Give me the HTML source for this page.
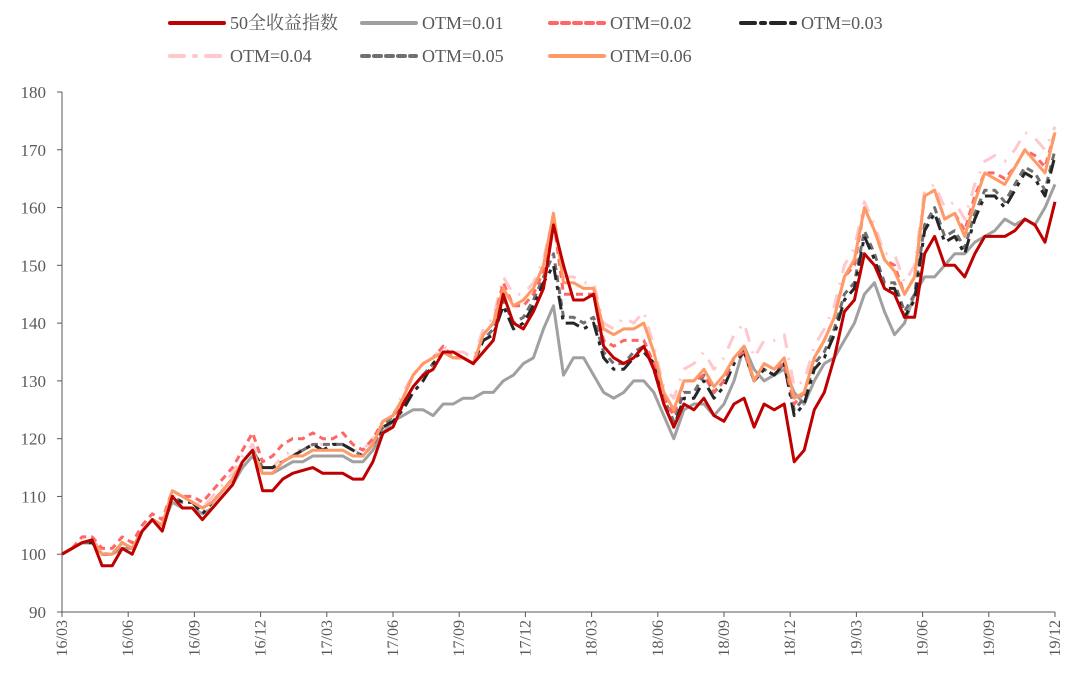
<!DOCTYPE html>
<html><head><meta charset="utf-8"><style>
html,body{margin:0;padding:0;background:#fff;}
svg{display:block;font-family:"Liberation Serif","Noto Serif CJK SC",serif;}
</style></head><body>
<svg id="chart" width="1086" height="681" viewBox="0 0 1086 681"></svg>
<script>
const xTickLabels=["16/03","16/06","16/09","16/12","17/03","17/06","17/09","17/12","18/03","18/06","18/09","18/12","19/03","19/06","19/09","19/12"];
const yTicks=[90,100,110,120,130,140,150,160,170,180];
const seriesNames=["50全收益指数","OTM=0.01","OTM=0.02","OTM=0.03","OTM=0.04","OTM=0.05","OTM=0.06"];
const idx50=[100,101,102,102.5,98,98,101,100,104,106,104,110,108,108,106,108,110,112,116,118,111,111,113,114,114.5,115,114,114,114,113,113,116,121,122,126,129,131,132,135,135,134,133,135,137,145,140,139,142,146,157,150,144,144,145,136,134,133,134,136,132,126,122,126,125,127,124,123,126,127,122,126,125,126,116,118,125,128,134,142,144,152,150,146,145,141,141,152,155,150,150,148,152,155,155,155,156,158,157,154,161];
const otm01=[100,101,102,102,100,100,101,101,104,106,105,109,108,108,107,108,110,112,115,117,114,114,115,116,116,117,117,117,117,116,116,118,121,123,124,125,125,124,126,126,127,127,128,128,130,131,133,134,139,143,131,134,134,131,128,127,128,130,130,128,124,120,125,126,126,124,126,130,136,132,130,131,132,128,126,130,133,134,137,140,145,147,142,138,140,145,148,148,150,152,152,154,155,156,158,157,158,157,160,164];
const otm02=[100,101,103,103,101,101,103,102,105,107,106,111,110,110,109,111,113,115,118,121,116,117,119,120,120,121,120,120,121,119,118,120,123,124,127,131,133,134,136,134,134,133,138,140,147,143,143,145,149,158,145,145,145,145,137,136,137,137,137,133,127,124,130,130,131,128,130,134,135,130,133,132,133,126,128,134,137,141,148,150,160,156,151,150,145,148,162,163,158,159,156,162,166,166,165,167,170,169,167,173];
const otm03=[100,101,102,102,100,100,102,101,104,106,105,110,109,109,107,109,111,113,116,118,115,115,116,117,118,119,118,119,119,118,117,119,122,123,125,128,130,133,135,134,134,133,137,138,143,139,140,143,147,150,140,140,139,140,134,132,132,134,135,133,126,122,127,127,130,127,129,133,135,130,132,131,133,124,126,132,134,138,144,146,155,151,146,146,141,144,156,159,154,155,152,158,162,162,160,163,166,165,162,169];
const otm04=[100,101,102,103,100,100,102,101,104,106,105,111,110,110,108,110,112,114,117,119,115,115,117,118,118,119,119,119,119,118,118,120,123,124,128,131,133,134,136,135,135,134,139,141,148,145,145,147,151,159,148,148,147,147,140,139,141,140,142,136,129,127,132,133,135,132,134,138,140,134,137,137,138,129,130,136,139,143,150,153,161,157,152,152,147,150,163,164,160,161,158,164,168,169,168,170,173,172,170,174];
const otm05=[100,101,102,102,100,100,102,101,104,106,105,110,109,109,108,109,111,113,116,118,115,115,116,117,118,119,119,119,119,118,117,119,122,124,126,129,131,133,135,134,134,133,137,139,144,140,141,144,148,152,141,141,140,141,135,133,133,135,136,133,127,123,128,128,131,128,130,134,135,130,132,131,133,125,127,133,135,139,145,147,156,152,147,147,142,145,157,160,155,156,153,159,163,163,161,164,167,166,163,170];
const otm06=[100,101,102,102.5,100,100,102,101,104,106,105,111,110,109,108,109,111,113,116,118,114,114,116,117,117,118,118,118,118,117,117,119,123,124,127,131,133,134,135,134,134,133,138,140,146,143,144,146,150,159,147,147,146,146,139,138,139,139,140,135,128,125,130,130,132,129,131,134,136,130,133,132,134,127,128,134,137,141,148,151,160,156,151,149,145,148,162,163,158,159,155,161,166,165,164,167,170,168,166,173];

const NS="http://www.w3.org/2000/svg";
const svg=document.getElementById('chart');
const X0=62,X1=1055,Y0=612,Y1=92;
const yS=v=>Y0-(v-90)/(180-90)*(Y0-Y1);
const xS=i=>X0+i/(idx50.length-1)*(X1-X0);
const xT=i=>X0+i/(xTickLabels.length-1)*(X1-X0);
function mk(tag,attrs,parent){const e=document.createElementNS(NS,tag);for(const k in attrs)e.setAttribute(k,attrs[k]);(parent||svg).appendChild(e);return e;}

const axes=mk('g',{});


const yAxis=mk('line',{x1:X0,y1:Y1,x2:X0,y2:Y0,stroke:'#595959','stroke-width':1},axes);


const xAxis=mk('line',{x1:X0,y1:Y0,x2:X1,y2:Y0,stroke:'#595959','stroke-width':1},axes);


yTicks.forEach(v=>{
  mk('line',{x1:X0-5,y1:yS(v),x2:X0,y2:yS(v),stroke:'#595959'},axes);
  const t=mk('text',{x:X0-16,y:yS(v)+6,'text-anchor':'end','font-size':17,fill:'#595959'},axes);
  t.textContent=v;
  
  
});
xTickLabels.forEach((l,i)=>{
  const x=xT(i);
  mk('line',{x1:x,y1:Y0,x2:x,y2:Y0+5,stroke:'#595959'},axes);
  const t=mk('text',{x:0,y:0,'text-anchor':'end','font-size':16,fill:'#595959',transform:`translate(${x+5},${Y0+8}) rotate(-90)`},axes);
  t.textContent=l;
  
  
});

const styles=[
 {d:idx50,c:'#C00000',dash:''},
 {d:otm01,c:'#A0A0A0',dash:''},
 {d:otm02,c:'#FF6666',dash:'7,5'},
 {d:otm03,c:'#262626',dash:'14,6,4,6'},
 {d:otm04,c:'#FFC7CE',dash:'14,10,2,10'},
 {d:otm05,c:'#707070',dash:'7,5'},
 {d:otm06,c:'#FF9966',dash:''}
];
const order=[4,1,5,3,2,6,0];
const plot=mk('g',{});


order.forEach(k=>{
  const s=styles[k];
  const p=s.d.map((v,i)=>(i?'L':'M')+xS(i).toFixed(1)+','+yS(v).toFixed(1)).join('');
  const path=mk('path',{d:p,fill:'none',stroke:s.c,'stroke-width':3,'stroke-linejoin':'round','stroke-dasharray':s.dash},plot);
  
  
});

const legendPos=[[170,23],[362,23],[550,23],[741,23],[170,56],[362,56],[550,56]];
const legend=mk('g',{});


styles.forEach((s,k)=>{
  const [lx,ly]=legendPos[k];
  const g=mk('g',{},legend);
  
  
  mk('line',{x1:lx,y1:ly,x2:lx+54,y2:ly,stroke:s.c,'stroke-width':4,'stroke-dasharray':s.dash,'stroke-linecap':'round'},g);
  const t=mk('text',{x:lx+60,y:ly+6,'font-size':18,fill:'#595959'},g);
  t.textContent=seriesNames[k];
});
</script>
</body></html>
